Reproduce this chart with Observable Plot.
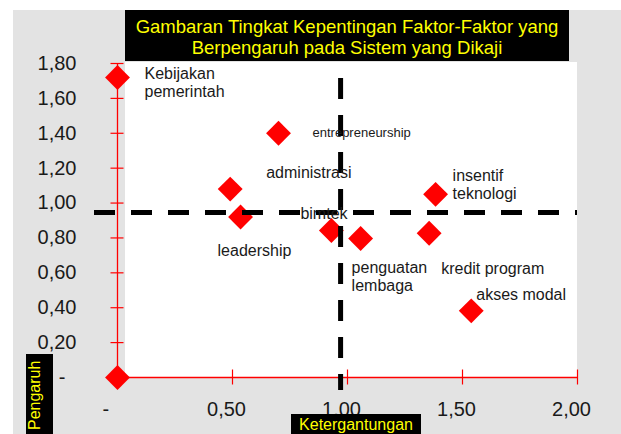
<!DOCTYPE html>
<html>
<head>
<meta charset="utf-8">
<script src="https://cdn.jsdelivr.net/npm/d3@7"></script>
<script src="https://cdn.jsdelivr.net/npm/@observablehq/plot@0.6"></script>
<style>
  html, body { margin: 0; padding: 0; background: #ffffff; }
  #wrap { position: relative; width: 621px; height: 434px; overflow: hidden; font-family: "Liberation Sans", Arial, sans-serif; }
  #bg { position: absolute; left: 13px; top: 10px; width: 608px; height: 424px; background: #e3e3e3; }
  #area { position: absolute; left: 125px; top: 62px; width: 452px; height: 315px; background: #ffffff; }
  #chart { position: absolute; left: 0; top: 0; }
  #title { position: absolute; left: 125px; top: 10px; width: 444px; height: 51px; background: #000; color: #ffff00;
           font-size: 18.5px; line-height: 21px; text-align: center; box-sizing: border-box; padding-top: 6px; }
  #xtitle { position: absolute; left: 291px; top: 414px; width: 130px; height: 20px; background: #000; color: #ffff00;
            font-size: 16px; line-height: 20px; text-align: center; box-sizing: border-box; padding-top: 1px; }
  #ytitle { position: absolute; left: 26px; top: 354px; width: 27px; height: 80px; background: #000; }
  #overlay { position: absolute; left: 0; top: 0; pointer-events: none; }
</style>
</head>
<body>
<div id="wrap">
  <div id="bg"></div>
  <div id="area"></div>
  <div id="chart"></div>
  <div id="title">Gambaran Tingkat Kepentingan Faktor-Faktor yang<br>Berpengaruh pada Sistem yang Dikaji</div>
  <div id="xtitle">Ketergantungan</div>
  <div id="ytitle"></div>
  <svg id="overlay" width="621" height="434">
    <text transform="translate(40,430) rotate(-90)" fill="#ffff00" font-size="16" font-family="Liberation Sans, Arial, sans-serif">Pengaruh</text>
  </svg>
</div>
<script>
// ---- data ----
const factors = ["Kebijakan pemerintah", "entrepreneurship", "administrasi", "leadership", "bimtek",
                 "penguatan lembaga", "kredit program", "insentif teknologi", "akses modal", ""];
const ketergantungan = [0.00, 0.70, 0.49, 0.535, 0.93, 1.057, 1.355, 1.383, 1.538, 0.00];
const pengaruh       = [1.72, 1.40, 1.08, 0.92, 0.843, 0.797, 0.827, 1.05, 0.382, 0.00];
const refKetergantungan = 0.97;
const refPengaruh = 0.946;
const xTickValues = [0, 0.5, 1, 1.5, 2];
const yTickValues = [0, 0.2, 0.4, 0.6, 0.8, 1.0, 1.2, 1.4, 1.6, 1.8];

// label text (multi-line) and placement offsets in pixels relative to the point
const labelText = ["Kebijakan\npemerintah", "entrepreneurship", "administrasi", "leadership", "bimtek",
                   "penguatan\nlembaga", "kredit program", "insentif\nteknologi", "akses modal", ""];
const labelPlacement = [
  {dx: 27, dy: 5, size: 16}, {dx: 34, dy: -1, size: 13}, {dx: 36, dy: -17, size: 16},
  {dx: -23, dy: 33, size: 16}, {dx: -31, dy: -17, size: 16}, {dx: -9, dy: 38, size: 16},
  {dx: 12, dy: 35, size: 16}, {dx: 17, dy: -10, size: 16}, {dx: 5, dy: -17, size: 16}, null
];

const points = factors.map((f, i) => ({name: f, x: ketergantungan[i], y: pengaruh[i], label: labelText[i], place: labelPlacement[i]}));

const fmt = v => v === 0 ? "-\u2007" : v.toFixed(2).replace(".", ",");

const hTick = {draw(ctx) { ctx.moveTo(-7, 0); ctx.lineTo(6, 0); }};
const vTick = {draw(ctx) { ctx.moveTo(0, -8); ctx.lineTo(0, 7); }};

const labelMarks = points.filter(p => p.place).map(p => Plot.text([p], {
  x: "x", y: "y", text: "label", dx: p.place.dx, dy: p.place.dy, textAnchor: "start",
  fontSize: p.place.size, lineHeight: 1.125, fill: "#1a1a1a"
}));

const chart = Plot.plot({
  width: 621, height: 434,
  marginLeft: 117, marginRight: 44, marginTop: 63, marginBottom: 57,
  x: {domain: [0, 2]},
  y: {domain: [0, 1.8]},
  axis: null,
  style: {background: "transparent", fontFamily: "Liberation Sans, Arial, sans-serif", overflow: "visible"},
  marks: [
    Plot.ruleX([0], {stroke: "#ff0000", strokeWidth: 1.3}),
    Plot.ruleY([0], {stroke: "#ff0000", strokeWidth: 1.3}),
    Plot.dot(yTickValues, {x: () => 0, y: d => d, symbol: hTick, r: 5, fill: "none", stroke: "#ff0000", strokeWidth: 1.2}),
    Plot.dot(xTickValues, {x: d => d, y: () => 0, symbol: vTick, r: 5, fill: "none", stroke: "#ff0000", strokeWidth: 1.2}),
    Plot.text(yTickValues, {y: d => d, text: fmt, frameAnchor: "left", dx: -41, textAnchor: "end", fontSize: 20, fill: "#1a1a1a"}),
    Plot.text(xTickValues, {x: d => d, text: fmt, frameAnchor: "bottom", dx: -6, dy: 38, fontSize: 20, fill: "#1a1a1a"}),
    Plot.dot(points, {x: "x", y: "y", symbol: d3.symbolDiamond2, r: 11.2, fill: "#ff0000"}),
    Plot.ruleX([refKetergantungan], {stroke: "#000", strokeWidth: 5, strokeDasharray: "21,16", insetTop: 15, insetBottom: -13}),
    Plot.ruleY([refPengaruh], {stroke: "#000", strokeWidth: 5, strokeDasharray: "21,16", insetLeft: -23}),
    ...labelMarks
  ]
});
document.getElementById("chart").appendChild(chart);
</script>
</body>
</html>
